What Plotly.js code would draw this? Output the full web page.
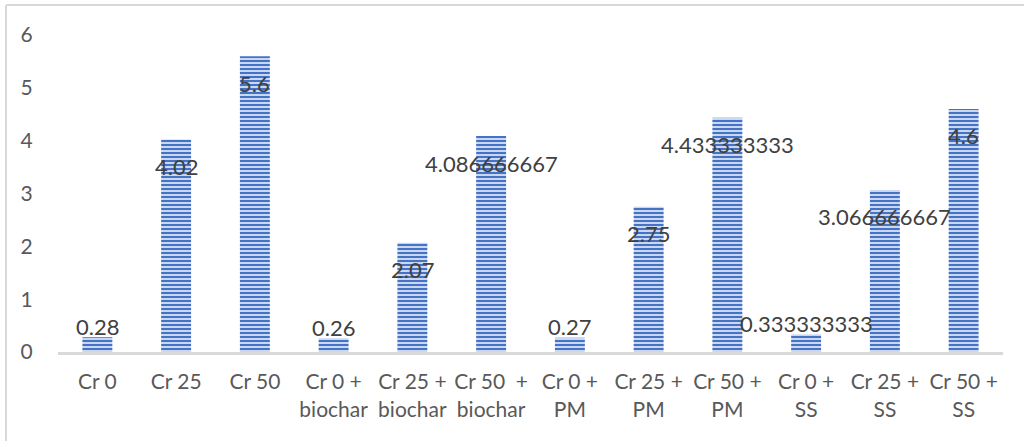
<!DOCTYPE html>
<html>
<head>
<meta charset="utf-8">
<script src="https://cdn.plot.ly/plotly-3.0.1.min.js"></script>
<style>
  html, body { margin: 0; padding: 0; background: #fff; overflow: hidden; }
  #chart { width: 1024px; height: 441px; }
</style>
</head>
<body>
<div id="chart"></div>
<script>
const categories = ["Cr 0", "Cr 25", "Cr 50", "Cr 0 +<br>biochar", "Cr 25 +<br>biochar", "Cr 50  +<br>biochar",
                    "Cr 0 +<br>PM", "Cr 25 +<br>PM", "Cr 50 +<br>PM", "Cr 0 +<br>SS", "Cr 25 +<br>SS", "Cr 50 +<br>SS"];
const values = [0.28, 4.02, 5.6, 0.26, 2.07, 4.086666667, 0.27, 2.75, 4.433333333, 0.333333333, 3.066666667, 4.6];
const labels = ["0.28", "4.02", "5.6", "0.26", "2.07", "4.086666667", "0.27", "2.75", "4.433333333", "0.333333333", "3.066666667", "4.6"];
const yTicks = [0, 1, 2, 3, 4, 5, 6];

const FONT = "Lato, 'Open Sans', sans-serif";
const W = 1024, H = 441;
const M = { l: 58, r: 21, t: 35, b: 89 };
const pw = W - M.l - M.r, ph = H - M.t - M.b;
// chart-area frame (top and left edges only), converted from pixels to paper units
const fx = (px) => (px - M.l) / pw;
const fy = (py) => 1 - (py - M.t) / ph;

const trace = {
  type: "bar",
  x: categories,
  y: values,
  width: 0.38,
  marker: {
    color: "#4472C4",
    line: { width: 0 },
    pattern: { shape: "-", fgcolor: "#4472C4", bgcolor: "#c9d7f0", size: 4, solidity: 0.5, fillmode: "replace" }
  },
  hoverinfo: "none"
};

const annotations = categories.map((c, i) => ({
  x: c, y: values[i], xref: "x", yref: "y",
  text: labels[i], showarrow: false,
  yanchor: "middle", xanchor: "center",
  yshift: values[i] < 1 ? 11 : -27,
  font: { family: FONT, size: 22, color: "#404040" }
}));

const layout = {
  width: W, height: H,
  margin: { l: M.l, r: M.r, t: M.t, b: M.b, pad: 0 },
  paper_bgcolor: "#ffffff", plot_bgcolor: "#ffffff",
  showlegend: false,
  xaxis: {
    type: "category",
    showline: true, linecolor: "#d9d9d9", linewidth: 3,
    showgrid: false, zeroline: false,
    ticks: "outside", ticklen: 9, tickcolor: "rgba(0,0,0,0)",
    tickfont: { family: FONT, size: 21, color: "#595959" },
    fixedrange: true
  },
  yaxis: {
    range: [0, 6],
    tickvals: yTicks, ticktext: yTicks.map(String),
    showline: false, showgrid: false, zeroline: false,
    ticks: "outside", ticklen: 20, tickcolor: "rgba(0,0,0,0)",
    tickfont: { family: FONT, size: 21, color: "#595959" },
    fixedrange: true
  },
  shapes: [
    { type: "line", xref: "paper", yref: "paper", x0: fx(6), x1: fx(W + 10), y0: fy(5), y1: fy(5),
      line: { color: "#d9d9d9", width: 2 } },
    { type: "line", xref: "paper", yref: "paper", x0: fx(6), x1: fx(6), y0: fy(5), y1: fy(H + 10),
      line: { color: "#d9d9d9", width: 2 } }
  ],
  annotations: annotations
};

Plotly.newPlot("chart", [trace], layout, { staticPlot: true, displayModeBar: false });
</script>
</body>
</html>
